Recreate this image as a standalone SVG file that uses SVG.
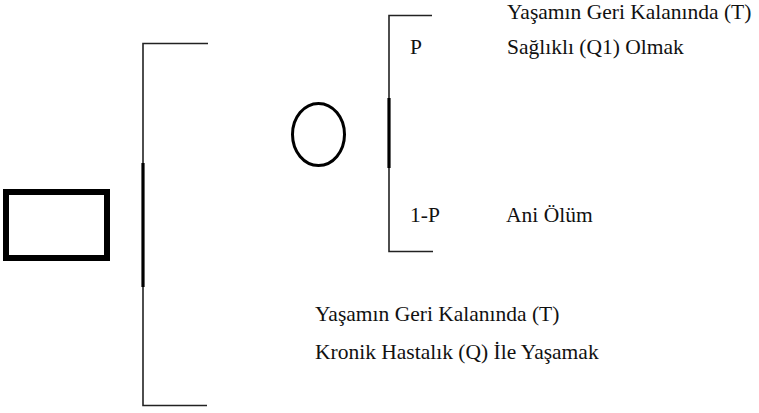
<svg xmlns="http://www.w3.org/2000/svg" width="759" height="413" viewBox="0 0 759 413">
<style>
.ln{stroke:#222;stroke-width:1.6;fill:none}
.thick{stroke:#000;stroke-width:3.2;fill:none}
</style>
<rect width="759" height="413" fill="#fff"/>
<g id="decision">
<rect x="6" y="192" width="101" height="66" fill="none" stroke="#000" stroke-width="6"/>
</g>
<g id="chance">
<ellipse cx="318.5" cy="134.5" rx="26" ry="31" fill="none" stroke="#000" stroke-width="3"/>
</g>
<g id="connectors">
<path class="ln" d="M208 43.5H143V405.5H207"/>
<line class="thick" x1="143" y1="163" x2="143" y2="287"/>
<path class="ln" d="M432 15.5H389V251.5H433"/>
<line class="thick" x1="389" y1="98" x2="389" y2="168"/>
</g>
<g font-family="Liberation Serif, Times New Roman, serif" font-size="21.5" fill="#111">
<g id="healthy">
<text x="507" y="19">Yaşamın Geri Kalanında (T)</text>
<text x="410" y="54">P</text>
<text x="507" y="54">Sağlıklı (Q1) Olmak</text>
</g>
<g id="death">
<text x="410" y="222">1-P</text>
<text x="506" y="222">Ani Ölüm</text>
</g>
<g id="chronic">
<text x="315" y="321">Yaşamın Geri Kalanında (T)</text>
<text x="315" y="359">Kronik Hastalık (Q) İle Yaşamak</text>
</g>
</g>
</svg>
